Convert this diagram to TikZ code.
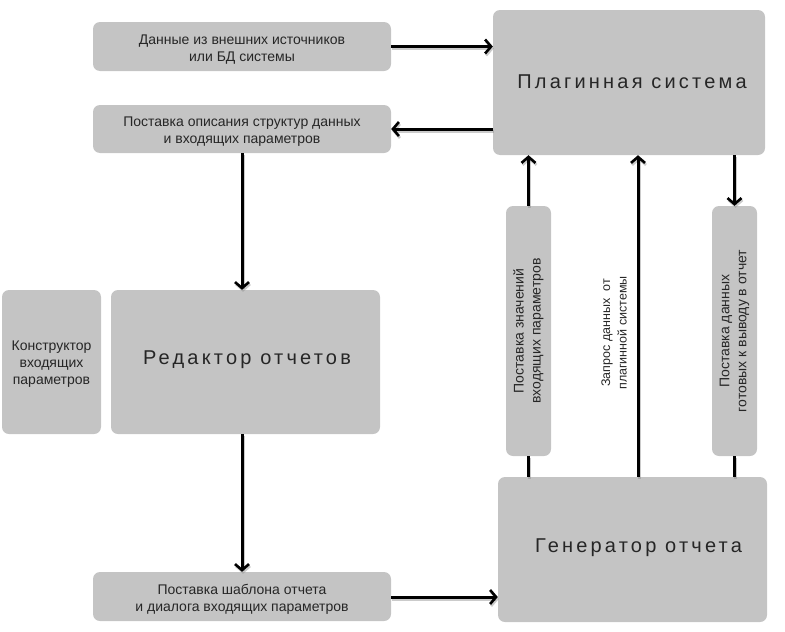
\documentclass[tikz,border=0pt]{standalone}
\usepackage{fontspec}
\setmainfont{Liberation Sans}
\newfontfamily\titlefont[LetterSpace=16]{Liberation Sans}
\usetikzlibrary{arrows.meta}
\definecolor{boxgray}{HTML}{C4C4C4}
\tikzset{
  box/.style={draw=none, fill=boxgray, rounded corners=7pt, inner sep=0pt},
  btext/.style={align=center, font=\fontsize{14}{17}\selectfont, text=black!85, yshift=-3pt},
  vtext/.style={rotate=90, align=center, font=\fontsize{14}{17}\selectfont, text=black!85},
  title/.style={font=\titlefont\fontsize{20}{24}\selectfont, text=black!85},
  lnk/.style={line width=3pt, black, preaction={draw=black!45, line width=3pt, opacity=0.45, transform canvas={shift={(1pt,-2pt)}}}},
  arr/.style={lnk, -{Straight Barb[length=6pt,width=14pt,line width=2.6pt]}},
  x=1pt, y=-1pt
}
\begin{document}
\begin{tikzpicture}
\useasboundingbox (0,0) rectangle (785,632);
% boxes
\node[box, minimum width=298pt, minimum height=49pt] (A) at (242,46.5) {};
\node[btext] (At) at (A.center) {Данные из внешних источников\\или БД системы};
\node[box, minimum width=298pt, minimum height=48pt] (B) at (242,129) {};
\node[btext] (Bt) at (B.center) {Поставка описания структур данных\\и входящих параметров};
\node[box, minimum width=272pt, minimum height=145pt] (P) at (629,82.5) {};
\node[title] (Pt) at (632,82) {Плагинная система};
\node[box, minimum width=99pt, minimum height=144pt] (K) at (51.5,362) {};
\node[btext, yshift=1pt] (Kt) at (K.center) {Конструктор\\входящих\\параметров};
\node[box, minimum width=269pt, minimum height=144pt] (E) at (245.5,362) {};
\node[title] (Et) at (247,360) {Редактор отчетов};
\node[box, minimum width=298pt, minimum height=49pt] (S) at (242,596.5) {};
\node[btext] (St) at (S.center) {Поставка шаблона отчета\\и диалога входящих параметров};
\node[box, minimum width=269pt, minimum height=145pt] (G) at (632.5,549.5) {};
\node[title] (Gt) at (638.5,548) {Генератор отчета};
\node[box, minimum width=45pt, minimum height=250pt] (V1) at (528.5,331) {};
\node[vtext] (V1t) at (V1.center) {Поставка значений\\входящих параметров};
\node[box, minimum width=45pt, minimum height=250pt] (V2) at (734.5,331) {};
\node[vtext] (V2t) at (V2.center) {Поставка данных\\готовых к выводу в отчет};
\coordinate (m) at (638,330);
\node[vtext, font=\fontsize{12.5}{16.5}\selectfont] (ML) at (614,333) {Запрос данных\ \ от\\плагинной системы};
% connectors
\draw[arr] (A.east) -- (A.east -| P.west);
\draw[arr] (B.east -| P.west) -- (B.east);
\coordinate (c1) at (242,0);
\draw[arr] (B.south -| c1) -- (E.north -| c1);
\draw[arr] (E.south -| c1) -- (S.north -| c1);
\coordinate (c2) at (0,597);
\draw[arr] (S.east |- c2) -- (G.west |- c2);
\draw[arr] (V1.north) -- (V1.north |- P.south);
\draw[lnk] (G.north -| V1.south) -- (V1.south);
\draw[arr] (G.north -| m) -- (P.south -| m);
\draw[arr] (V2.north |- P.south) -- (V2.north);
\draw[lnk] (G.north -| V2.south) -- (V2.south);
\end{tikzpicture}
\end{document}
